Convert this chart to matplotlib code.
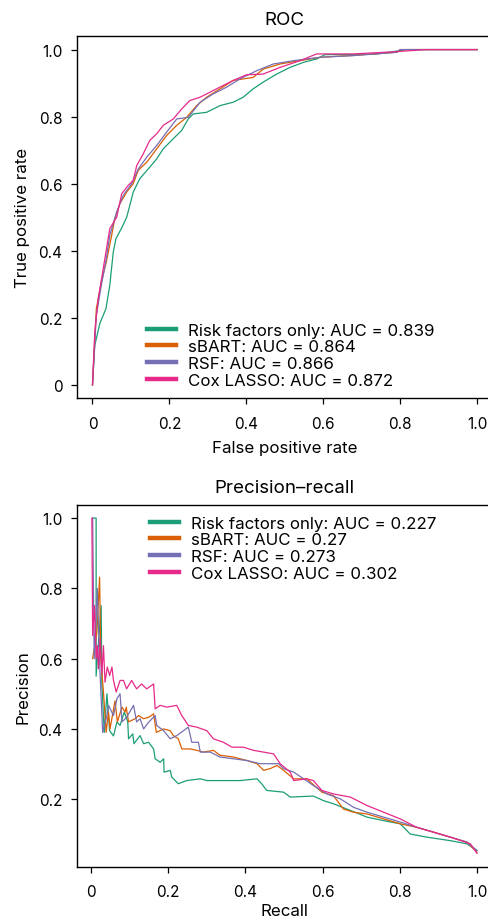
import matplotlib
matplotlib.use("Agg")
import matplotlib.pyplot as plt

plt.rcParams['font.family'] = ['Inter', 'DejaVu Sans']

colors = ['#1B9E77', '#D95F02', '#7570B3', '#E7298A']
roc_labels = ['Risk factors only: AUC = 0.839', 'sBART: AUC = 0.864',
              'RSF: AUC = 0.866', 'Cox LASSO: AUC = 0.872']
pr_labels = ['Risk factors only: AUC = 0.227', 'sBART: AUC = 0.27',
             'RSF: AUC = 0.273', 'Cox LASSO: AUC = 0.302']

# ROC curves (false positive rate, true positive rate)
fpr_risk = [0, 0.006, 0.019, 0.035, 0.045, 0.054, 0.061, 0.075, 0.089, 0.097, 0.106, 0.123,
            0.145, 0.167, 0.184, 0.210, 0.232, 0.249, 0.262, 0.297, 0.332, 0.366, 0.392,
            0.418, 0.444, 0.479, 0.514, 0.549, 0.583, 0.605, 0.680, 0.740, 0.818, 1.0]
tpr_risk = [0, 0.118, 0.183, 0.227, 0.297, 0.396, 0.436, 0.466, 0.500, 0.535, 0.575, 0.615,
            0.644, 0.674, 0.704, 0.734, 0.759, 0.793, 0.808, 0.813, 0.833, 0.843, 0.858,
            0.883, 0.903, 0.927, 0.947, 0.962, 0.972, 0.985, 0.985, 0.987, 1.0, 1.0]

fpr_sbart = [0, 0.010, 0.023, 0.036, 0.049, 0.058, 0.071, 0.089, 0.106, 0.119, 0.141, 0.167,
             0.193, 0.219, 0.245, 0.271, 0.297, 0.332, 0.366, 0.418, 0.444, 0.488, 0.540,
             0.592, 0.670, 0.792, 0.800, 1.0]
tpr_sbart = [0, 0.227, 0.307, 0.367, 0.441, 0.496, 0.540, 0.575, 0.600, 0.640, 0.664, 0.704,
             0.744, 0.774, 0.798, 0.833, 0.858, 0.883, 0.908, 0.917, 0.942, 0.957, 0.967,
             0.977, 0.982, 0.992, 1.0, 1.0]

fpr_rsf = [0, 0.010, 0.023, 0.036, 0.045, 0.063, 0.080, 0.102, 0.119, 0.141, 0.167, 0.193,
           0.219, 0.249, 0.280, 0.314, 0.349, 0.384, 0.427, 0.470, 0.523, 0.592, 0.679,
           0.792, 0.800, 1.0]
tpr_rsf = [0, 0.208, 0.297, 0.377, 0.446, 0.516, 0.565, 0.600, 0.644, 0.679, 0.714, 0.754,
           0.793, 0.798, 0.843, 0.868, 0.888, 0.913, 0.937, 0.957, 0.967, 0.977, 0.982,
           0.992, 1.0, 1.0]

fpr_cox = [0, 0.006, 0.015, 0.028, 0.045, 0.063, 0.076, 0.093, 0.106, 0.115, 0.132, 0.149,
           0.167, 0.184, 0.210, 0.232, 0.253, 0.280, 0.323, 0.366, 0.401, 0.444, 0.488,
           0.540, 0.583, 0.679, 0.792, 0.868, 1.0]
tpr_cox = [0, 0.158, 0.257, 0.347, 0.466, 0.500, 0.570, 0.595, 0.610, 0.654, 0.689, 0.729,
           0.749, 0.774, 0.793, 0.823, 0.848, 0.858, 0.883, 0.908, 0.925, 0.927, 0.947,
           0.967, 0.987, 0.987, 0.994, 1.0, 1.0]

# Precision-recall curves (recall, precision)
rec_risk = [0.004, 0.013, 0.013, 0.026, 0.028, 0.034, 0.041, 0.048, 0.058, 0.067, 0.075,
            0.086, 0.095, 0.097, 0.108, 0.111, 0.127, 0.136, 0.149, 0.162, 0.166, 0.179,
            0.188, 0.189, 0.205, 0.209, 0.226, 0.248, 0.283, 0.300, 0.352, 0.386, 0.430,
            0.442, 0.455, 0.499, 0.516, 0.576, 0.602, 0.628, 0.672, 0.715, 0.758, 0.801,
            0.827, 0.870, 0.931, 0.974, 1.0]
prec_risk = [1.0, 1.0, 0.55, 0.751, 0.524, 0.39, 0.50, 0.395, 0.38, 0.42, 0.41,
             0.448, 0.42, 0.372, 0.386, 0.358, 0.381, 0.358, 0.362, 0.343, 0.315, 0.305,
             0.315, 0.277, 0.282, 0.263, 0.244, 0.253, 0.258, 0.253, 0.253, 0.253, 0.258,
             0.244, 0.225, 0.220, 0.206, 0.209, 0.196, 0.187, 0.168, 0.149, 0.139, 0.130,
             0.101, 0.092, 0.082, 0.073, 0.054]

rec_sbart = [0.004, 0.015, 0.022, 0.025, 0.032, 0.039, 0.045, 0.049, 0.062, 0.068, 0.080,
             0.088, 0.091, 0.097, 0.114, 0.123, 0.136, 0.149, 0.162, 0.169, 0.188, 0.205,
             0.213, 0.226, 0.235, 0.257, 0.274, 0.291, 0.317, 0.334, 0.369, 0.404, 0.430,
             0.447, 0.464, 0.482, 0.499, 0.525, 0.559, 0.598, 0.628, 0.654, 0.680, 0.715,
             0.758, 0.801, 0.844, 0.888, 0.931, 0.974, 1.0]
prec_sbart = [0.60, 0.675, 0.832, 0.60, 0.505, 0.39, 0.448, 0.40, 0.48, 0.42, 0.462,
              0.448, 0.462, 0.42, 0.429, 0.438, 0.429, 0.433, 0.443, 0.39, 0.40, 0.395,
              0.381, 0.372, 0.343, 0.343, 0.339, 0.334, 0.339, 0.325, 0.320, 0.310, 0.301,
              0.282, 0.287, 0.296, 0.282, 0.258, 0.258, 0.220, 0.210, 0.172, 0.163, 0.158,
              0.144, 0.130, 0.120, 0.106, 0.092, 0.078, 0.049]

rec_rsf = [0.004, 0.008, 0.016, 0.023, 0.030, 0.041, 0.045, 0.058, 0.067, 0.075, 0.080,
           0.092, 0.110, 0.118, 0.127, 0.136, 0.149, 0.166, 0.170, 0.188, 0.205, 0.222,
           0.252, 0.261, 0.278, 0.283, 0.309, 0.334, 0.369, 0.404, 0.438, 0.455, 0.486,
           0.499, 0.525, 0.551, 0.576, 0.611, 0.646, 0.680, 0.715, 0.758, 0.801, 0.844,
           0.888, 0.931, 0.974, 1.0]
prec_rsf = [1.0, 0.60, 0.80, 0.562, 0.39, 0.438, 0.467, 0.438, 0.486, 0.50, 0.42,
            0.433, 0.467, 0.42, 0.429, 0.40, 0.419, 0.438, 0.41, 0.395, 0.372, 0.381,
            0.405, 0.362, 0.362, 0.334, 0.334, 0.320, 0.315, 0.310, 0.301, 0.301, 0.301,
            0.287, 0.277, 0.258, 0.239, 0.215, 0.201, 0.177, 0.163, 0.149, 0.135, 0.120,
            0.106, 0.092, 0.078, 0.054]

rec_cox = [0.002, 0.004, 0.009, 0.013, 0.016, 0.019, 0.023, 0.028, 0.032, 0.036, 0.042,
           0.048, 0.054, 0.058, 0.065, 0.075, 0.084, 0.092, 0.105, 0.118, 0.131, 0.144,
           0.162, 0.166, 0.179, 0.196, 0.222, 0.235, 0.252, 0.274, 0.300, 0.317, 0.343,
           0.365, 0.395, 0.421, 0.447, 0.473, 0.490, 0.516, 0.525, 0.559, 0.576, 0.598,
           0.628, 0.672, 0.715, 0.758, 0.801, 0.844, 0.888, 0.931, 0.983, 1.0]
prec_cox = [1.0, 0.666, 0.751, 0.60, 0.637, 0.571, 0.656, 0.557, 0.637, 0.533, 0.576,
            0.552, 0.576, 0.538, 0.505, 0.538, 0.538, 0.514, 0.538, 0.514, 0.528, 0.514,
            0.528, 0.457, 0.467, 0.462, 0.467, 0.438, 0.410, 0.405, 0.395, 0.372, 0.362,
            0.348, 0.348, 0.339, 0.334, 0.329, 0.301, 0.277, 0.253, 0.258, 0.253, 0.225,
            0.215, 0.206, 0.182, 0.163, 0.144, 0.120, 0.106, 0.092, 0.073, 0.046]

ticks = [0, 0.2, 0.4, 0.6, 0.8, 1.0]
tick_labels = ['0', '0.2', '0.4', '0.6', '0.8', '1.0']

fig = plt.figure(figsize=(4.88, 9.2), dpi=100)
ax1 = fig.add_axes([0.158, 0.566, 0.851, 0.3936])
ax2 = fig.add_axes([0.158, 0.0565, 0.851, 0.3938])


def style_axes(ax):
    ax.spines['right'].set_visible(False)
    for s in ['left', 'top', 'bottom']:
        ax.spines[s].set_linewidth(1.0)
    ax.tick_params(direction='out', length=4.5, width=0.9, labelsize=11)
    ax.tick_params(axis='x', pad=8)
    ax.tick_params(axis='y', pad=6)
    ax.set_xticks(ticks)
    ax.set_xticklabels(tick_labels)


def add_legend(ax, anchor):
    leg = ax.legend(loc='upper left', bbox_to_anchor=anchor, frameon=False,
                    fontsize=12.2, handlelength=1.7, handletextpad=0.7, labelspacing=0.1,
                    borderpad=0, borderaxespad=0)
    for h in leg.get_lines():
        h.set_linewidth(3.2)


roc = [(fpr_risk, tpr_risk), (fpr_sbart, tpr_sbart), (fpr_rsf, tpr_rsf), (fpr_cox, tpr_cox)]
for (x, y), c, lab in zip(roc, colors, roc_labels):
    ax1.plot(x, y, color=c, lw=0.9, label=lab)
ax1.set_xlim(-0.04, 1.04)
ax1.set_ylim(-0.04, 1.04)
style_axes(ax1)
ax1.set_yticks(ticks)
ax1.set_yticklabels(tick_labels)
ax1.set_title('ROC', fontsize=13.5, pad=9)
ax1.set_xlabel('False positive rate', fontsize=12.2, labelpad=7)
ax1.set_ylabel('True positive rate', fontsize=12.2, labelpad=6)
add_legend(ax1, (0.168, 0.209))

pr = [(rec_risk, prec_risk), (rec_sbart, prec_sbart), (rec_rsf, prec_rsf), (rec_cox, prec_cox)]
for (x, y), c, lab in zip(pr, colors, pr_labels):
    ax2.plot(x, y, color=c, lw=0.9, label=lab)
ax2.set_xlim(-0.0363, 1.04)
ax2.set_ylim(0.007, 1.038)
style_axes(ax2)
ax2.set_yticks(ticks[1:])
ax2.set_yticklabels(tick_labels[1:])
ax2.set_title('Precision\u2013recall', fontsize=13.5, pad=9)
ax2.set_xlabel('Recall', fontsize=12.2, labelpad=2.5)
ax2.set_ylabel('Precision', fontsize=12.2, labelpad=6)
add_legend(ax2, (0.176, 0.970))

fig.savefig('out.png', dpi=100)
